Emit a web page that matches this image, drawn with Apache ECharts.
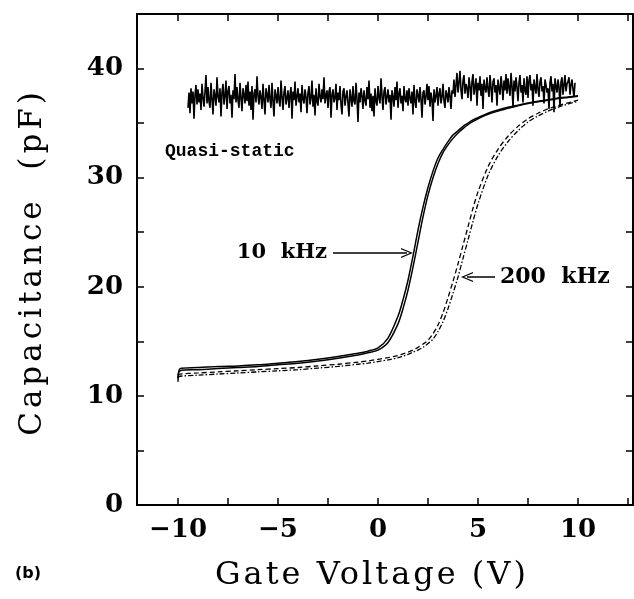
<!DOCTYPE html>
<html>
<head>
<meta charset="utf-8">
<script src="https://cdn.jsdelivr.net/npm/echarts@6/dist/echarts.min.js"></script>
<style>
html, body { margin: 0; padding: 0; background: #fff; }
#main { width: 634px; height: 599px; }
</style>
</head>
<body>
<div id="main"></div>
<script>
// gate voltage samples (V) for the high-frequency C-V sweeps
var vGate = [-10, -9.9, -9, -8, -7, -6, -5, -4, -3, -2, -1, -0.5, 0, 0.5, 1, 1.25, 1.5, 1.75, 2, 2.25,
  2.5, 2.75, 3, 3.25, 3.5, 3.75, 4, 4.25, 4.5, 4.75, 5, 5.5, 6, 6.5, 7, 7.5, 8, 8.5, 9, 9.5, 10]

// 10 kHz, two sweep directions (pF)
var c10kA = [11.3, 12.5, 12.6, 12.7, 12.75, 12.85, 13.0, 13.15, 13.35, 13.6, 13.9, 14.1, 14.4, 15.3, 17.3, 18.8, 20.6, 22.8, 25.2, 27.3,
  29.1, 30.6, 31.8, 32.6, 33.3, 33.9, 34.3, 34.7, 35.0, 35.3, 35.5, 35.9, 36.2, 36.45, 36.65, 36.85, 37.0, 37.15, 37.3, 37.4, 37.5]
var c10kB = [11.6, 12.3, 12.4, 12.5, 12.6, 12.7, 12.85, 13.0, 13.2, 13.45, 13.75, 13.95, 14.2, 14.9, 16.6, 18.0, 19.7, 21.8, 24.1, 26.4,
  28.4, 30.0, 31.3, 32.3, 33.0, 33.6, 34.1, 34.5, 34.85, 35.15, 35.4, 35.8, 36.1, 36.35, 36.6, 36.8, 36.95, 37.1, 37.25, 37.35, 37.45]

// 200 kHz, two sweep directions (pF)
var c200kA = [11.9, 12.0, 12.1, 12.2, 12.3, 12.4, 12.5, 12.6, 12.75, 12.9, 13.1, 13.2, 13.35, 13.5, 13.7, 13.85, 14.0, 14.2, 14.45, 14.75,
  15.1, 15.7, 16.5, 17.6, 19.0, 20.5, 22.1, 23.8, 25.5, 27.2, 28.7, 31.0, 32.6, 33.8, 34.7, 35.4, 35.9, 36.3, 36.6, 36.85, 37.1]
var c200kB = [11.7, 11.8, 11.9, 12.0, 12.1, 12.2, 12.3, 12.4, 12.55, 12.7, 12.9, 13.0, 13.15, 13.3, 13.5, 13.65, 13.8, 14.0, 14.2, 14.45,
  14.8, 15.2, 15.9, 16.8, 18.0, 19.4, 20.9, 22.6, 24.3, 26.0, 27.6, 30.2, 32.0, 33.3, 34.3, 35.1, 35.65, 36.1, 36.45, 36.75, 37.0]

// quasi-static trace, one reading every 0.05 V starting at -9.5 V (one row = 1 V)
var qsStart = -9.5
var qsStep = 0.05
var cQuasi = [
  36.4, 37.8, 35.9, 38.2, 36.8, 37.9, 35.4, 37.6, 38.5, 36.7, 38.1, 36.9, 37.7, 36.2, 38.6, 37.3, 36.5, 37.9, 39.4, 36.8,
  38.3, 37.0, 36.4, 38.7, 37.2, 35.8, 38.1, 37.5, 36.6, 39.2, 37.4, 36.9, 38.2, 35.6, 37.8, 38.6, 36.7, 37.5, 38.9, 36.3,
  37.9, 38.4, 36.8, 37.6, 35.5, 38.0, 37.2, 39.5, 36.9, 38.3, 37.1, 36.4, 38.7, 37.3, 36.1, 38.2, 37.6, 36.8, 38.5, 37.0,
  38.8, 36.6, 37.9, 36.2, 38.4, 35.3, 37.7, 38.1, 36.9, 39.3, 37.5, 36.7, 38.0, 37.4, 36.3, 38.6, 37.1, 35.8, 38.2, 37.6,
  36.9, 38.5, 37.2, 36.4, 38.7, 37.0, 35.6, 38.1, 37.5, 36.8, 38.3, 37.1, 36.5, 38.9, 37.4, 36.2, 37.8, 38.4, 36.7, 37.3,
  38.0, 36.4, 37.6, 38.3, 35.4, 37.9, 37.1, 38.8, 36.6, 37.4, 38.2, 36.9, 37.7, 36.0, 38.5, 37.2, 36.8, 38.1, 37.4, 35.9,
  37.8, 38.4, 36.7, 37.3, 38.9, 36.5, 37.6, 35.7, 38.2, 37.0, 36.6, 38.6, 37.4, 36.9, 38.1, 37.2, 39.2, 36.8, 37.5, 38.0,
  36.4, 37.9, 38.3, 35.5, 37.6, 38.1, 36.9, 37.3, 38.6, 36.2, 37.8, 37.1, 38.4, 36.7, 35.8, 37.9, 38.2, 36.6, 37.4, 38.0,
  36.8, 35.6, 38.1, 37.3, 36.5, 38.4, 37.0, 36.7, 38.7, 37.2, 35.1, 37.8, 36.9, 38.2, 37.5, 36.3, 38.0, 37.1, 36.6, 38.3,
  37.2, 38.9, 36.4, 37.7, 36.1, 37.5, 35.6, 38.2, 37.0, 36.6, 38.4, 37.3, 36.8, 39.1, 37.5, 36.2, 37.9, 38.3, 36.7, 37.4,
  38.1, 36.9, 37.6, 35.3, 38.0, 37.4, 36.5, 38.3, 37.1, 38.8, 36.4, 37.7, 38.2, 36.8, 37.5, 36.1, 38.4, 37.2, 36.9, 38.0,
  36.6, 38.2, 37.3, 36.8, 37.9, 35.8, 38.5, 37.0, 36.4, 38.1, 37.6, 36.9, 38.3, 37.2, 35.5, 37.8, 38.0, 36.7, 37.4, 38.6,
  37.1, 38.4, 36.5, 37.8, 37.2, 35.2, 38.1, 36.9, 37.5, 38.3, 36.6, 37.7, 38.2, 36.8, 37.4, 38.6, 37.0, 36.4, 38.0, 37.6,
  36.9, 38.3, 37.5, 36.3, 38.0, 37.7, 39.0, 37.4, 38.5, 39.6, 37.8, 38.7, 39.8, 38.0, 37.2, 38.9, 39.4, 37.7, 38.6, 38.2,
  37.3, 39.2, 38.4, 37.0, 38.8, 39.5, 37.6, 38.3, 39.1, 36.6, 38.7, 38.0, 39.3, 37.5, 38.6, 36.3, 39.0, 38.2, 37.8, 39.2,
  38.1, 37.4, 39.4, 38.3, 36.9, 38.8, 39.1, 37.8, 38.5, 36.6, 39.0, 38.2, 37.6, 39.3, 38.4, 37.1, 38.9, 38.0, 39.5, 37.7,
  39.1, 38.2, 37.5, 39.6, 38.4, 36.4, 38.9, 37.9, 39.2, 38.3, 37.0, 38.7, 39.4, 37.8, 38.5, 36.9, 39.1, 38.0, 37.6, 39.3,
  37.3, 38.9, 39.4, 38.0, 38.6, 36.6, 39.0, 38.3, 37.7, 39.5, 38.1, 37.4, 38.8, 39.2, 37.9, 38.4, 36.8, 39.0, 38.5, 37.8,
  38.2, 36.3, 38.7, 39.3, 37.9, 38.6, 36.0, 39.1, 38.4, 37.8, 39.0, 38.3, 36.5, 38.8, 39.2, 37.6, 38.5, 39.4, 37.9, 38.6,
  38.8, 39.2, 37.6, 38.5, 39.0, 38.1, 37.4, 38.7
]

// axis ticks and labels
var xTicks = [-10, -7.5, -5, -2.5, 0, 2.5, 5, 7.5, 10, 12.5]
var xLabels = [-10, -5, 0, 5, 10]
var yTicks = [5, 10, 15, 20, 25, 30, 35, 40]
var yLabels = [0, 10, 20, 30, 40]

var xTitle = 'Gate Voltage (V)'
var yTitle = 'Capacitance  (pF)'

// the printed axis titles are letter-spaced: widen just those two strings on the canvas
var spacedTitles = {}
spacedTitles[xTitle] = '3px'
spacedTitles[yTitle] = '4px'
var rawFillText = CanvasRenderingContext2D.prototype.fillText
CanvasRenderingContext2D.prototype.fillText = function(str, x, y, maxW){
  var gap = spacedTitles[str]
  if(!gap){
    if(this.letterSpacing && this.letterSpacing != '0px') this.letterSpacing = '0px'
    return maxW === undefined ? rawFillText.call(this, str, x, y) : rawFillText.call(this, str, x, y, maxW)
  }
  this.save()
  this.letterSpacing = gap
  rawFillText.call(this, str, x, y)
  this.restore()
  this.letterSpacing = '0px'
}

var chart = echarts.init(document.getElementById('main'))

function pairs(xs, ys){
  var out = []
  for(var i = 0; i < ys.length; i++){
    out.push([xs[i], ys[i]])
  }
  return out
}

var qsData = []
for(var k = 0; k < cQuasi.length; k++){
  qsData.push([qsStart + k * qsStep, cQuasi[k]])
}

var serif = 'DejaVu Serif'
var chevron = 'path://M0,12 L5,0 L10,12 L8.8,12 L5,3 L1.2,12 Z'

function axisX(pos, showLabel){
  return {
    type: 'value', position: pos, min: -12.05, max: 12.75,
    axisLine: { onZero: false, lineStyle: { color: '#000', width: 2 } },
    axisTick: { inside: true, length: 7, customValues: xTicks, lineStyle: { color: '#000', width: 1.5 } },
    axisLabel: {
      show: showLabel, customValues: xLabels, margin: 12, color: '#000',
      fontFamily: serif, fontWeight: 'bold', fontSize: 26,
      formatter: function(v){ return String(v).replace('-', '\u2212') }
    },
    splitLine: { show: false }
  }
}

function axisY(pos, showLabel){
  return {
    type: 'value', position: pos, min: 0, max: 45,
    axisLine: { onZero: false, lineStyle: { color: '#000', width: 2 } },
    axisTick: { inside: true, length: 7, customValues: yTicks, lineStyle: { color: '#000', width: 1.5 } },
    axisLabel: {
      show: showLabel, customValues: yLabels, margin: 14, color: '#000',
      fontFamily: serif, fontWeight: 'bold', fontSize: 26
    },
    splitLine: { show: false }
  }
}

function curve(data, width, dash){
  return {
    type: 'line', data: data, showSymbol: false, smooth: 0.3, silent: true,
    lineStyle: { color: '#000', width: width, type: dash }
  }
}

var s10a = curve(pairs(vGate, c10kA), 1.5, 'solid')
// arrows pointing at the two sweeps
s10a.markLine = {
  silent: true, symbol: ['none', chevron], symbolSize: [10, 12],
  label: { show: false }, lineStyle: { color: '#000', width: 1.5, type: 'solid' },
  data: [
    [{ coord: [-2.25, 23.1] }, { coord: [1.45, 23.1] }],
    [{ coord: [5.85, 20.9] }, { coord: [4.45, 20.9] }]
  ]
}

var option = {
  animation: false,
  backgroundColor: '#fff',
  grid: { left: 137, right: 1, top: 14, bottom: 94 },
  xAxis: [axisX('bottom', true), axisX('top', false)],
  yAxis: [axisY('left', true), axisY('right', false)],
  series: [
    s10a,
    curve(pairs(vGate, c10kB), 1.5, 'solid'),
    curve(pairs(vGate, c200kA), 1.3, [5, 3]),
    curve(pairs(vGate, c200kB), 1.3, [5, 2, 1.5, 2]),
    {
      type: 'line', data: qsData, showSymbol: false, silent: true,
      lineStyle: { color: '#000', width: 1.6 }
    }
  ]
}

chart.setOption(option)

// text notes placed in data coordinates
var notes = [
  { text: 'Quasi-static', at: [-10.65, 32.4], align: 'left', font: 'bold 18px "Liberation Mono"' },
  { text: '10  kHz', at: [-2.55, 23.1], align: 'right', font: 'bold 21px "DejaVu Serif"' },
  { text: '200  kHz', at: [6.1, 20.9], align: 'left', font: 'bold 22px "DejaVu Serif"' }
]

var graphics = []
for(var n = 0; n < notes.length; n++){
  var p = chart.convertToPixel({ gridIndex: 0 }, notes[n].at)
  graphics.push({
    type: 'text', x: p[0], y: p[1], silent: true,
    style: { text: notes[n].text, font: notes[n].font, fill: '#000', align: notes[n].align, verticalAlign: 'middle' }
  })
}
// axis titles
graphics.push({
  type: 'text', x: 372, y: 576, silent: true,
  style: { text: xTitle, font: '32px "DejaVu Serif"', fill: '#000', align: 'center', verticalAlign: 'middle' }
})
graphics.push({
  type: 'text', x: 33, y: 262, rotation: Math.PI / 2, silent: true,
  style: { text: yTitle, font: '31px "DejaVu Serif"', fill: '#000', align: 'center', verticalAlign: 'middle' }
})
graphics.push({
  type: 'text', x: 15, y: 574, silent: true,
  style: { text: '(b)', font: 'bold 16px "DejaVu Sans"', fill: '#000', verticalAlign: 'middle' }
})

chart.setOption({ graphic: graphics })
</script>
</body>
</html>
